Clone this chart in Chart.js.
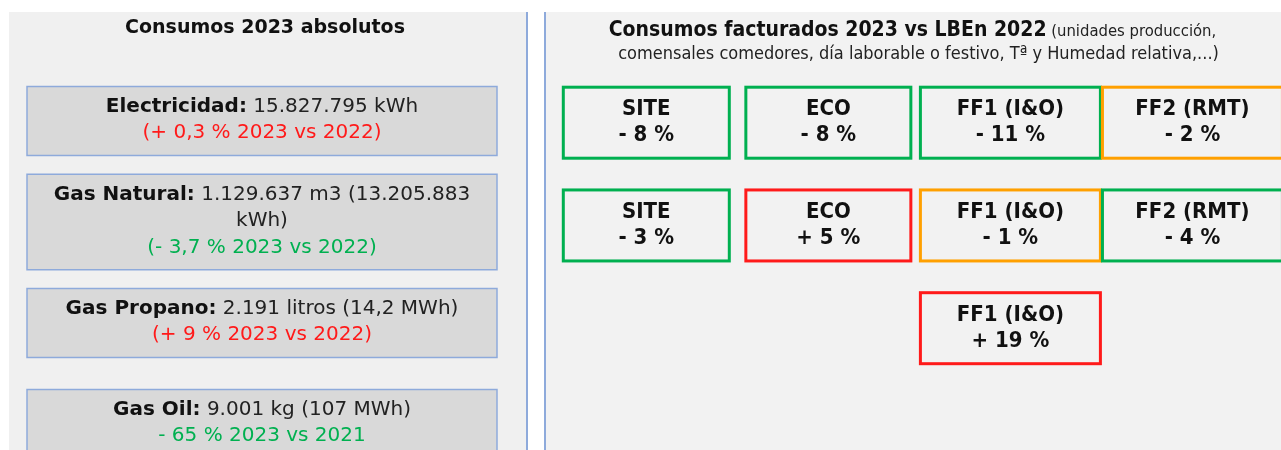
<!DOCTYPE html>
<html><head><meta charset="utf-8">
<script src="https://cdn.jsdelivr.net/npm/chart.js@4.4.1/dist/chart.umd.min.js"></script>
<style>
html,body{margin:0;padding:0;background:#fff;width:1281px;height:450px;overflow:hidden}
#left{position:absolute;left:9px;top:12px;width:519px;height:438px}
#right{position:absolute;left:544px;top:12px;width:737px;height:438px}
</style></head><body>
<div id="left"><canvas id="cL"></canvas></div>
<div id="right"><canvas id="cR"></canvas></div>
<script>
// ---- data ----
const leftTitle = 'Consumos 2023 absolutos';
const energyNames = ['Electricidad', 'Gas Natural', 'Gas Propano', 'Gas Oil'];
const energyAmounts = ['15.827.795 kWh', '1.129.637 m3 (13.205.883 kWh)', '2.191 litros (14,2 MWh)', '9.001 kg (107 MWh)'];
const energyChange = [0.3, -3.7, 9, -65];
const energyBaseYear = [2022, 2022, 2022, 2021];
const changeInParens = [true, true, true, false];

const rightTitleBold = 'Consumos facturados 2023 vs LBEn 2022';
const rightTitleNote = '(unidades producción, comensales comedores, día laborable o festivo, Tª y Humedad relativa,...)';
const scopes = ['SITE', 'ECO', 'FF1 (I&O)', 'FF2 (RMT)'];
const row1 = [-8, -8, -11, -2];
const row2 = [-3, 5, -1, -4];
const row3 = [null, null, 19, null];

// ---- styles ----
const LEFT_FONT = '"DejaVu Sans", "Liberation Sans", sans-serif';
const NARROW_FONT = '"DejaVu Sans Condensed", "Liberation Sans Narrow", sans-serif';
const GREEN = '#00b050', RED = '#ff1a1a', ORANGE = '#ffa000', BLUE = '#8eaadb';
const colWidths = [166, 165, 180, 180];

function fmtPct(v) {
  const s = v > 0 ? '+ ' : (v < 0 ? '- ' : '');
  return s + String(Math.abs(v)).replace('.', ',') + ' %';
}
function statusColor(v) { return v <= -3 ? GREEN : (v < 0 ? ORANGE : RED); }

Chart.defaults.animation = false;

// ---- Left chart ----
const leftPlugin = {
  id: 'leftPanel',
  beforeDraw(chart) {
    const c = chart.ctx, w = chart.width, h = chart.height;
    c.save();
    c.fillStyle = '#f0f0f0'; c.fillRect(0, 0, w, h);
    c.strokeStyle = BLUE; c.lineWidth = 2;
    c.beginPath(); c.moveTo(w - 1, 0); c.lineTo(w - 1, h); c.stroke();
    c.fillStyle = '#111'; c.font = 'bold 19px ' + LEFT_FONT;
    c.textAlign = 'center'; c.textBaseline = 'middle';
    c.fillText(leftTitle, 256, 16);
    c.restore();
  },
  afterDatasetsDraw(chart) {
    const c = chart.ctx;
    const meta = chart.getDatasetMeta(0);
    const BW = 470, LH = 26.5, fs = 20;
    meta.data.forEach((el, i) => {
      const tokens = [];
      tokens.push({ t: energyNames[i] + ':', b: true });
      energyAmounts[i].split(' ').forEach(w => tokens.push({ t: w, b: false }));
      const fontOf = b => (b ? 'bold ' : '') + fs + 'px ' + LEFT_FONT;
      c.save();
      c.font = fontOf(false); const sp = c.measureText(' ').width;
      const lines = []; let cur = [], curW = 0;
      tokens.forEach(tk => {
        c.font = fontOf(tk.b); const tw = c.measureText(tk.t).width;
        const add = (cur.length ? sp : 0) + tw;
        if (cur.length && curW + add > BW - 30) { lines.push({ toks: cur, w: curW }); cur = []; curW = 0; }
        cur.push({ ...tk, w: tw }); curW += (cur.length > 1 ? sp : 0) + tw;
      });
      lines.push({ toks: cur, w: curW });
      const ch = fmtPct(energyChange[i]) + ' 2023 vs ' + energyBaseYear[i];
      const changeText = changeInParens[i] ? '(' + ch + ')' : ch;
      const n = lines.length + 1;
      const BH = n * LH + 16;
      const x = el.x, y = el.y;
      c.fillStyle = '#d9d9d9';
      c.fillRect(x - BW / 2, y - BH / 2, BW, BH);
      c.strokeStyle = BLUE; c.lineWidth = 1.5;
      c.strokeRect(x - BW / 2, y - BH / 2, BW, BH);
      c.textBaseline = 'middle'; c.textAlign = 'left';
      lines.forEach((ln, li) => {
        const ly = y - 1 + (li - (n - 1) / 2) * LH;
        let lx = x - ln.w / 2;
        ln.toks.forEach((tk, ti) => {
          if (ti > 0) lx += sp;
          c.font = fontOf(tk.b); c.fillStyle = tk.b ? '#111' : '#222';
          c.fillText(tk.t, lx, ly); lx += tk.w;
        });
      });
      c.textAlign = 'center'; c.font = fontOf(false);
      c.fillStyle = energyChange[i] > 0 ? RED : GREEN;
      c.fillText(changeText, x, y - 1 + ((n - 1) - (n - 1) / 2) * LH);
      c.restore();
    });
  }
};

const lMin = -109 / 101;
new Chart(document.getElementById('cL'), {
  type: 'scatter',
  data: { datasets: [{ data: energyNames.map((n, i) => ({ x: 0, y: i })), pointRadius: 0 }] },
  options: {
    responsive: true, maintainAspectRatio: false,
    layout: { padding: { left: 0, right: 13, top: 0, bottom: 0 } },
    plugins: { legend: { display: false }, tooltip: { enabled: false } },
    scales: {
      x: { type: 'linear', display: false, min: -1, max: 1 },
      y: { type: 'linear', display: false, reverse: true, min: lMin, max: lMin + 438 / 101 }
    }
  },
  plugins: [leftPlugin]
});

// ---- Right chart ----
const rightPlugin = {
  id: 'rightPanel',
  beforeDraw(chart) {
    const c = chart.ctx, w = chart.width, h = chart.height;
    c.save();
    c.fillStyle = '#f2f2f2'; c.fillRect(0, 0, w, h);
    c.strokeStyle = BLUE; c.lineWidth = 2;
    c.beginPath(); c.moveTo(1, 0); c.lineTo(1, h); c.stroke();
    const note = rightTitleNote.split(' ');
    const first = ' ' + note.slice(0, 2).join(' ');
    const second = note.slice(2).join(' ');
    const bf = 'bold 21px ' + NARROW_FONT, rf = '16.5px ' + NARROW_FONT;
    c.font = bf; const w1 = c.measureText(rightTitleBold).width;
    c.font = rf; const w2 = c.measureText(first).width;
    let x0 = w / 2 - (w1 + w2) / 2;
    c.textBaseline = 'alphabetic'; c.textAlign = 'left';
    c.fillStyle = '#111'; c.font = bf; c.fillText(rightTitleBold, x0, 24);
    c.fillStyle = '#222'; c.font = rf; c.fillText(first, x0 + w1, 24);
    c.font = '18px ' + NARROW_FONT;
    c.textAlign = 'center'; c.fillText(second, w / 2 + 6, 47);
    c.restore();
  },
  afterDatasetsDraw(chart) {
    const c = chart.ctx;
    chart.data.datasets.forEach((ds, di) => {
      const meta = chart.getDatasetMeta(di);
      meta.data.forEach((el, i) => {
        const p = ds.data[i];
        const bw = colWidths[p.x], bh = 71;
        c.save();
        c.strokeStyle = statusColor(p.v); c.lineWidth = 3;
        c.strokeRect(el.x - bw / 2, el.y - bh / 2, bw, bh);
        c.fillStyle = '#111'; c.font = 'bold 22px ' + NARROW_FONT;
        c.textAlign = 'center'; c.textBaseline = 'middle';
        c.fillText(scopes[p.x], el.x, el.y - 13);
        c.fillText(fmtPct(p.v), el.x, el.y + 13);
        c.restore();
      });
    });
  }
};

const rows = [row1, row2, row3];
const xMin = -102.3 / 182.05, yMin = -110.7 / 102.75;
new Chart(document.getElementById('cR'), {
  type: 'scatter',
  data: {
    datasets: rows.map((r, ri) => ({
      data: r.map((v, ci) => v === null ? null : { x: ci, y: ri, v: v }).filter(d => d),
      pointRadius: 0
    }))
  },
  options: {
    responsive: true, maintainAspectRatio: false,
    layout: { padding: 0 },
    plugins: { legend: { display: false }, tooltip: { enabled: false } },
    scales: {
      x: { type: 'linear', display: false, min: xMin, max: xMin + 737 / 182.05 },
      y: { type: 'linear', display: false, reverse: true, min: yMin, max: yMin + 438 / 102.75 }
    }
  },
  plugins: [rightPlugin]
});
</script>
</body></html>
